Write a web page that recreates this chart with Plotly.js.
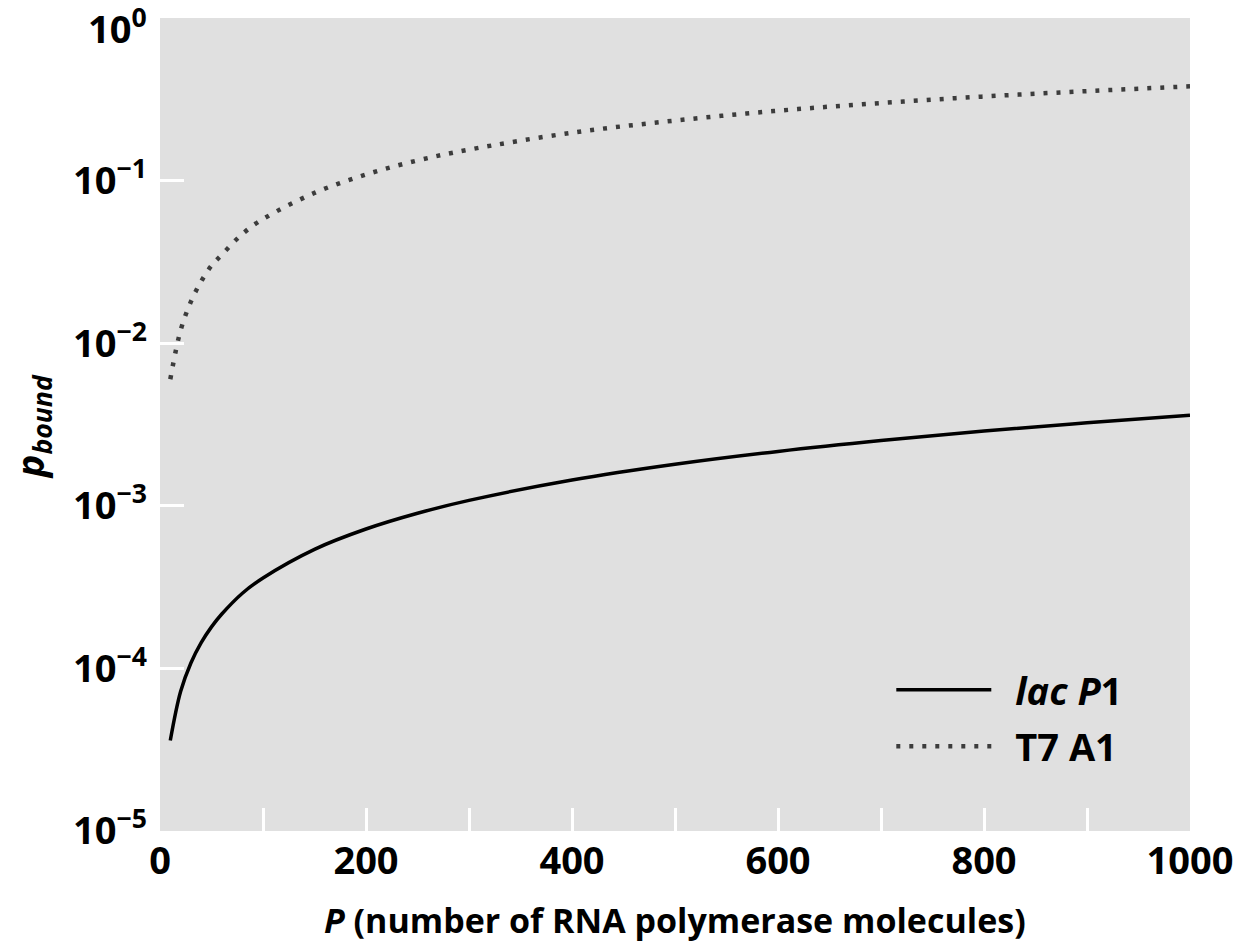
<!DOCTYPE html>
<html>
<head>
<meta charset="utf-8">
<script src="https://cdn.plot.ly/plotly-3.0.1.min.js"></script>
<style>html,body{margin:0;padding:0;background:#fff;}#chart{width:1245px;height:946px;}</style>
</head>
<body>
<div id="chart"></div>
<script>
// Number of RNA polymerase molecules (x)
const P_values = [10, 20, 30, 40, 50, 60, 80, 100, 150, 200, 250, 300, 400, 500, 600, 700, 800, 900, 1000];
// p_bound for lac P1 (solid)
const lacP1 = [3.6e-5, 7.2e-5, 1.08e-4, 1.44e-4, 1.8e-4, 2.16e-4, 2.9e-4, 3.6e-4, 5.4e-4, 7.2e-4, 9.0e-4, 1.08e-3, 1.44e-3, 1.8e-3, 2.16e-3, 2.52e-3, 2.88e-3, 3.24e-3, 3.6e-3];
// p_bound for T7 A1 (dotted)
const T7A1 = [0.006, 0.012, 0.018, 0.024, 0.030, 0.035, 0.047, 0.058, 0.084, 0.109, 0.133, 0.155, 0.197, 0.234, 0.269, 0.300, 0.329, 0.355, 0.38];

const seriesNames = ['\u2002<i>lac P</i>1', '\u2002T7 A1'];
const xTickVals = [0, 200, 400, 600, 800, 1000];
const xTickText = ['0', '200', '400', '600', '800', '1000'];
const yTickVals = [1e-5, 1e-4, 1e-3, 1e-2, 1e-1];
const yTickText = ['10<sup>−5</sup>', '10<sup>−4</sup>', '10<sup>−3</sup>', '10<sup>−2</sup>', '10<sup>−1</sup>'];
const yTopLabel = '10<sup>0</sup>';

const FONT = '"Open Sans", "Noto Sans", sans-serif';

const traces = [
  {
    x: P_values, y: lacP1, name: seriesNames[0], mode: 'lines', legendgroup: 'a',
    line: {color: '#000000', width: 3.5, shape: 'spline'}
  },
  {
    x: P_values, y: T7A1, name: seriesNames[1], mode: 'lines', legendgroup: 'b',
    line: {color: '#3c3c3c', width: 4.5, dash: '4px,9px', shape: 'spline'}
  }
];

const layout = {
  width: 1245, height: 946,
  paper_bgcolor: '#ffffff',
  plot_bgcolor: '#e0e0e0',
  margin: {l: 160, r: 55, t: 18, b: 115},
  font: {family: FONT, color: '#000', size: 34, weight: 700},
  showlegend: true,
  legend: {
    x: 0.71, y: 0.212, xanchor: 'left', yanchor: 'top',
    bgcolor: 'rgba(0,0,0,0)', itemwidth: 95,
    font: {family: FONT, size: 38, weight: 700, color: '#000'},
    tracegroupgap: 4
  },
  xaxis: {
    range: [0, 1000], showgrid: false, zeroline: false, showline: false,
    tickvals: xTickVals, ticktext: xTickText,
    ticks: 'inside', ticklen: 23, tickwidth: 3, tickcolor: '#ffffff',
    tickfont: {family: FONT, size: 38, weight: 700, color: '#000'},
    ticklabelstandoff: 4,
    minor: {dtick: 100, ticks: 'inside', ticklen: 23, tickwidth: 3, tickcolor: '#ffffff', showgrid: false},
    fixedrange: true
  },
  yaxis: {
    type: 'log', range: [-5, 0], showgrid: false, zeroline: false, showline: false,
    tickvals: yTickVals, ticktext: yTickText,
    ticks: 'inside', ticklen: 24, tickwidth: 3, tickcolor: '#ffffff',
    tickfont: {family: FONT, size: 38, weight: 700, color: '#000'},
    ticklabelstandoff: 12,
    fixedrange: true
  },
  annotations: [
    {
      text: yTopLabel,
      xref: 'paper', yref: 'y', x: 0, y: 0, xanchor: 'right', yanchor: 'middle',
      xshift: -11, yshift: -8, showarrow: false,
      font: {family: FONT, size: 38, weight: 700, color: '#000'}
    },
    {
      text: '<i>P</i> (number of RNA polymerase molecules)',
      xref: 'paper', yref: 'paper', x: 0.5, y: -0.11, xanchor: 'center', yanchor: 'middle',
      showarrow: false, font: {family: FONT, size: 34, weight: 700, color: '#000'}
    },
    {
      text: '<i>p</i><sub><i>bound</i></sub>',
      xref: 'paper', yref: 'paper', x: -0.124, y: 0.497, xanchor: 'center', yanchor: 'middle',
      textangle: -90, showarrow: false, font: {family: FONT, size: 38, weight: 700, color: '#000'}
    }
  ]
};

Plotly.newPlot('chart', traces, layout, {displayModeBar: false, staticPlot: true});
</script>
</body>
</html>
